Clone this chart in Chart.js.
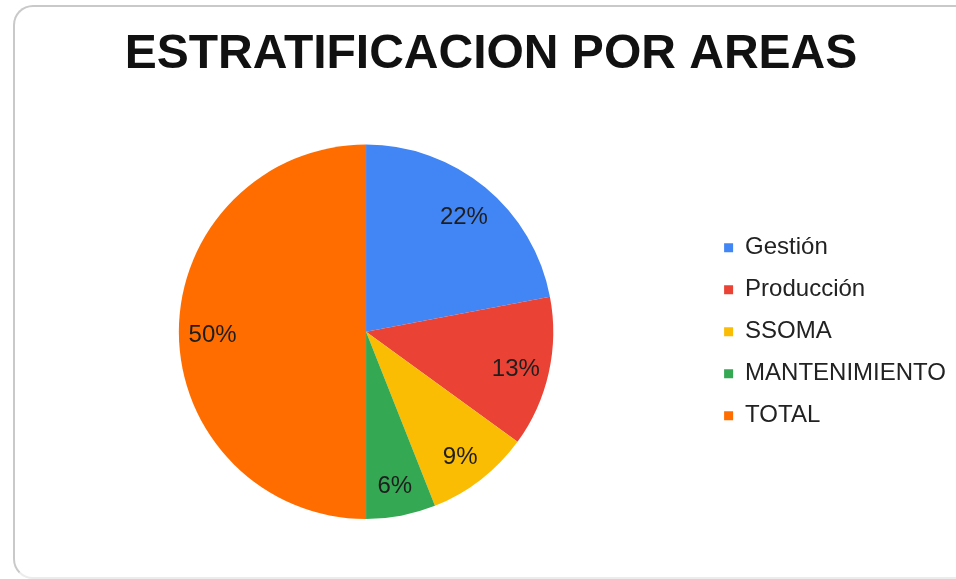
<!DOCTYPE html>
<html lang="es">
<head>
<meta charset="utf-8">
<title>Estratificación por áreas</title>
<script src="https://cdn.jsdelivr.net/npm/chart.js@4.4.1/dist/chart.umd.min.js"></script>
<style>
    html, body {
        margin: 0;
        padding: 0;
        background: #fff;
        overflow: hidden;
    }
    #wrap {
        position: relative;
        width: 956px;
        height: 579px;
    }
    #card {
        position: absolute;
        left: 13px;
        top: 5px;
        width: 960px;
        height: 570px;
        border-top: 2px solid #c9c9c9;
        border-left: 2px solid #c9c9c9;
        border-bottom: 2px solid #ececec;
        border-radius: 20px 0 0 20px;
        pointer-events: none;
    }
    canvas {
        position: absolute;
        left: 0;
        top: 0;
    }
</style>
</head>
<body>
<div id="wrap">
    <canvas id="areas-chart" width="956" height="579"></canvas>
    <div id="card"></div>
</div>
<script>
'use strict';

const categories = ['Gestión', 'Producción', 'SSOMA', 'MANTENIMIENTO', 'TOTAL'];
const percentages = [22, 13, 9, 6, 50];
const sliceColors = ['#4285f4', '#ea4335', '#fbbc04', '#34a853', '#ff6d01'];

const FONT = "'Liberation Sans', Arial, sans-serif";

// writes the percentage inside each slice, a bit out from the centre
const sliceLabels = {
    id: 'sliceLabels',
    afterDatasetsDraw(chart) {
        const ctx = chart.ctx;
        const meta = chart.getDatasetMeta(0);
        ctx.save();
        ctx.font = `24px ${FONT}`;
        ctx.fillStyle = '#1e1e1e';
        ctx.textAlign = 'center';
        ctx.textBaseline = 'middle';
        meta.data.forEach((arc, i) => {
            const p = arc.getProps(['x', 'y', 'startAngle', 'endAngle', 'outerRadius'], true);
            const mid = (p.startAngle + p.endAngle) / 2;
            const r = p.outerRadius * 0.82;
            ctx.fillText(percentages[i] + '%', p.x + Math.cos(mid) * r, p.y + Math.sin(mid) * r + 4);
        });
        ctx.restore();
    }
};

new Chart(document.getElementById('areas-chart'), {
    type: 'pie',
    data: {
        labels: categories,
        datasets: [{
            data: percentages,
            backgroundColor: sliceColors,
            borderWidth: 0
        }]
    },
    options: {
        responsive: false,
        animation: false,
        layout: {
            padding: { left: 26, right: 0, top: 0, bottom: 60 }
        },
        plugins: {
            title: {
                display: true,
                text: 'ESTRATIFICACION POR AREAS',
                color: '#111',
                font: { family: FONT, size: 48, weight: 'bold' },
                padding: { top: 26, bottom: 61 }
            },
            legend: {
                position: 'right',
                fullSize: false,
                labels: {
                    boxWidth: 9,
                    boxHeight: 9,
                    padding: 18,
                    color: '#222',
                    font: { family: FONT, size: 24 }
                }
            },
            tooltip: { enabled: false }
        }
    },
    plugins: [sliceLabels]
});
</script>
</body>
</html>
